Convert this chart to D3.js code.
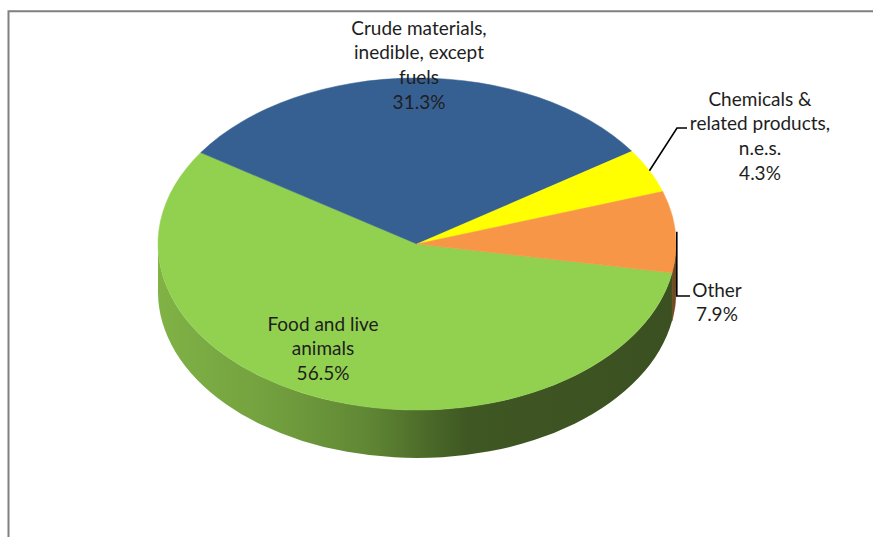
<!DOCTYPE html>
<html><head><meta charset="utf-8">
<script src="https://cdn.jsdelivr.net/npm/d3@7"></script>
<style>html,body{margin:0;padding:0;background:#fff;}svg{display:block;}</style>
</head><body>
<svg id="chart" width="873" height="537"></svg>
<script>
// ---- data ----
const categories = ["Food and live animals", "Crude materials, inedible, except fuels", "Chemicals & related products, n.e.s.", "Other"];
const values = [56.5, 31.3, 4.3, 7.9];
const labelLines = [["Food and live", "animals"], ["Crude materials,", "inedible, except", "fuels"], ["Chemicals &", "related products,", "n.e.s."], ["Other"]];
const topColors = ["#92D050", "#376092", "#FFFF00", "#F79646"];
const sideColors = ["url(#greenSide)", "#243F60", "#8C8C00", "#6E4A22"];

// ---- layout ----
const W = 873, H = 537;
const cx = 417, cy = 244, rx = 259, ry = 166, depth = 48;
const deg = Math.PI / 180;
const startDeg = 100;
const labelPos = [
  {x: 323, y: 323}, {x: 419, y: 27}, {x: 760, y: 98}, {x: 717, y: 289}
];
const lineH = 24.7;

const svg = d3.select("#chart");
const defs = svg.append("defs");
const g1 = defs.append("linearGradient").attr("id", "greenSide")
  .attr("gradientUnits", "userSpaceOnUse").attr("x1", cx - rx).attr("x2", cx + rx).attr("y1", 0).attr("y2", 0);
[[0, "#80B246"], [0.2, "#74A23F"], [0.4, "#618835"], [0.52, "#4B6A29"], [0.6, "#3F5723"], [1, "#3B5021"]]
  .forEach(([o, c]) => g1.append("stop").attr("offset", o).attr("stop-color", c));

// border (chart area outline, cropped at right/bottom)
svg.append("path").attr("d", `M8.5,${H + 5} L8.5,11.3 L${W + 5},11.3`)
  .attr("fill", "none").attr("stroke", "#808080").attr("stroke-width", 2);

const pie = d3.pie().sort(null).value(d => d).startAngle(startDeg * deg).endAngle((startDeg + 360) * deg);
const arcs = pie(values);

const px = a => cx + rx * Math.sin(a);
const py = a => cy - ry * Math.cos(a);

function topPath(a0, a1) {
  const large = (a1 - a0) > Math.PI ? 1 : 0;
  return `M${cx},${cy} L${px(a0)},${py(a0)} A${rx},${ry} 0 ${large} 1 ${px(a1)},${py(a1)} Z`;
}
function sidePath(a0, a1) {
  const large = (a1 - a0) > Math.PI ? 1 : 0;
  return `M${px(a0)},${py(a0)} A${rx},${ry} 0 ${large} 1 ${px(a1)},${py(a1)} L${px(a1)},${py(a1) + depth} A${rx},${ry} 0 ${large} 0 ${px(a0)},${py(a0) + depth} Z`;
}
// visible side: compass angles 90..270 (mod 360)
function visibleRanges(a0, a1) {
  const out = [];
  for (let k = -1; k <= 2; k++) {
    const lo = (90 + 360 * k) * deg, hi = (270 + 360 * k) * deg;
    const s = Math.max(a0, lo), e = Math.min(a1, hi);
    if (e > s) out.push([s, e]);
  }
  return out;
}

const sides = svg.append("g");
arcs.forEach((d, i) => {
  visibleRanges(d.startAngle, d.endAngle).forEach(([s, e]) => {
    sides.append("path").attr("d", sidePath(s, e)).attr("fill", sideColors[i])
      .attr("stroke", sideColors[i] === "url(#greenSide)" ? "none" : sideColors[i]).attr("stroke-width", 0.5);
  });
});

const tops = svg.append("g");
tops.selectAll("path").data(arcs).join("path")
  .attr("d", d => topPath(d.startAngle, d.endAngle))
  .attr("fill", (d, i) => topColors[i])
  .attr("stroke", (d, i) => topColors[i]).attr("stroke-width", 0.5);

// leader lines
const mid = d => (d.startAngle + d.endAngle) / 2;
const lead = svg.append("g").attr("fill", "none").attr("stroke", "#000").attr("stroke-width", 1.6);
{
  const d = arcs[2], a = mid(d);
  lead.append("path").attr("d", d3.line()([[px(a), py(a)], [677, 128], [687, 128]]));
}
{
  const d = arcs[3], a = mid(d);
  lead.append("path").attr("d", d3.line()([[px(a) + 1.5, py(a)], [px(a) + 1.5, 296], [690, 296]]));
}

// labels
const fmt = v => d3.format(".1f")(v) + "%";
const lab = svg.append("g").attr("font-family", "Lato, 'Open Sans', sans-serif").attr("font-size", 19)
  .attr("fill", "#1e1e1e").attr("text-anchor", "middle");
arcs.forEach((d, i) => {
  const lines = labelLines[i].concat([fmt(values[i])]);
  const t = lab.append("text");
  lines.forEach((ln, j) => {
    t.append("tspan").attr("x", labelPos[i].x).attr("y", labelPos[i].y + j * lineH)
      .attr("dominant-baseline", "central").text(ln);
  });
});
</script>
</body></html>
